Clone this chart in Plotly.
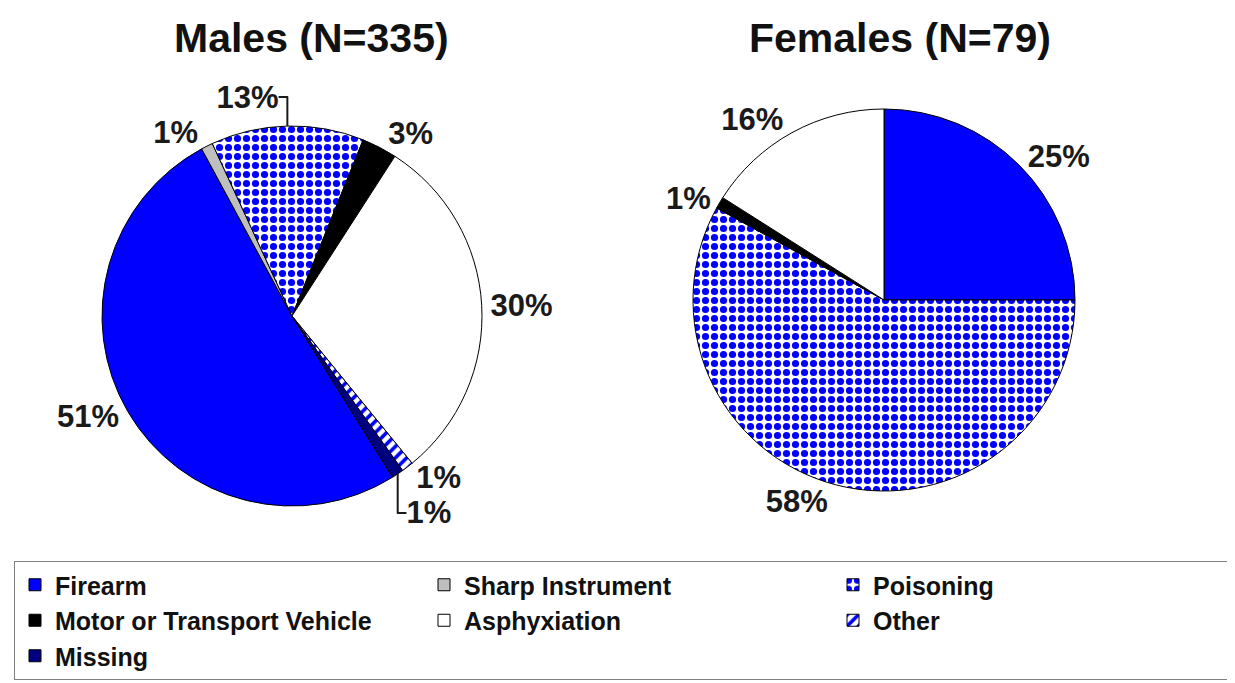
import plotly.graph_objects as go

categories = ["Firearm", "Sharp Instrument", "Poisoning", "Motor or Transport Vehicle",
              "Asphyxiation", "Other", "Missing"]
male_pct = [51, 1, 13, 3, 30, 1, 1]
female_cats = ["Firearm", "Poisoning", "Motor or Transport Vehicle", "Asphyxiation"]
female_pct = [25, 58, 1, 16]
titles = ["Males (N=335)", "Females (N=79)"]

colors = {"Firearm": "#0000FF", "Sharp Instrument": "#BFBFBF", "Poisoning": "#FFFFFF",
          "Motor or Transport Vehicle": "#000000", "Asphyxiation": "#FFFFFF",
          "Other": "#FFFFFF", "Missing": "#000080"}
shapes = {"Poisoning": ".", "Other": "/"}

W, H = 1235, 683


def marker_for(cats):
    return dict(
        colors=[colors[c] for c in cats],
        line=dict(color="#000000", width=1),
        pattern=dict(
            shape=[shapes.get(c, "") for c in cats],
            fgcolor=["#0000FF" for c in cats],
            bgcolor=[colors[c] for c in cats],
            fgopacity=1,
            size=[9 if c == "Poisoning" else 8 for c in cats],
            solidity=[0.5 if c == "Poisoning" else 0.45 for c in cats],
            fillmode="overlay",
        ),
    )


def dom(cx, cy, r):
    # small empirical correction for plotly's pie placement
    cx, cy = cx - 8, cy - 8
    return dict(x=[(cx - r - 10) / W, (cx + r + 10) / W], y=[1 - (cy + r) / H, 1 - (cy - r) / H])


font_lbl = dict(family="Liberation Sans, Arial", size=31, color="#1a1a1a", weight="bold")

fig = go.Figure()
fig.add_trace(go.Pie(
    labels=categories, values=male_pct, sort=False, direction="clockwise", rotation=148,
    marker=marker_for(categories), textinfo="text",
    text=[f"{v}%" for v in male_pct], textposition="outside",
    outsidetextfont=font_lbl, domain=dom(292, 316, 190),
    hoverinfo="label+percent",
))
fig.add_trace(go.Pie(
    labels=female_cats, values=female_pct, sort=False, direction="clockwise", rotation=0,
    marker=marker_for(female_cats), textinfo="text",
    text=[f"{v}%" for v in female_pct], textposition="outside",
    outsidetextfont=font_lbl, domain=dom(884, 300, 191),
    hoverinfo="label+percent",
))

for t, xc in zip(titles, [303 / W, 892 / W]):
    fig.add_annotation(text=t, x=xc, y=1 - 30 / H, xref="paper", yref="paper",
                       xanchor="center", yanchor="middle", showarrow=False,
                       font=dict(family="Liberation Sans, Arial", size=41, color="#111", weight="bold"))

fig.update_layout(
    width=W, height=H, margin=dict(l=0, r=0, t=0, b=0),
    paper_bgcolor="white", plot_bgcolor="white",
    legend=dict(orientation="h", x=13 / W, y=1 - 553 / H, xanchor="left", yanchor="top",
                bordercolor="#808080", borderwidth=1, entrywidth=364, entrywidthmode="pixels",
                font=dict(family="Liberation Sans, Arial", size=25, color="#111", weight="bold"),
                traceorder="normal", itemwidth=30),
)
fig.write_html("out.html")
